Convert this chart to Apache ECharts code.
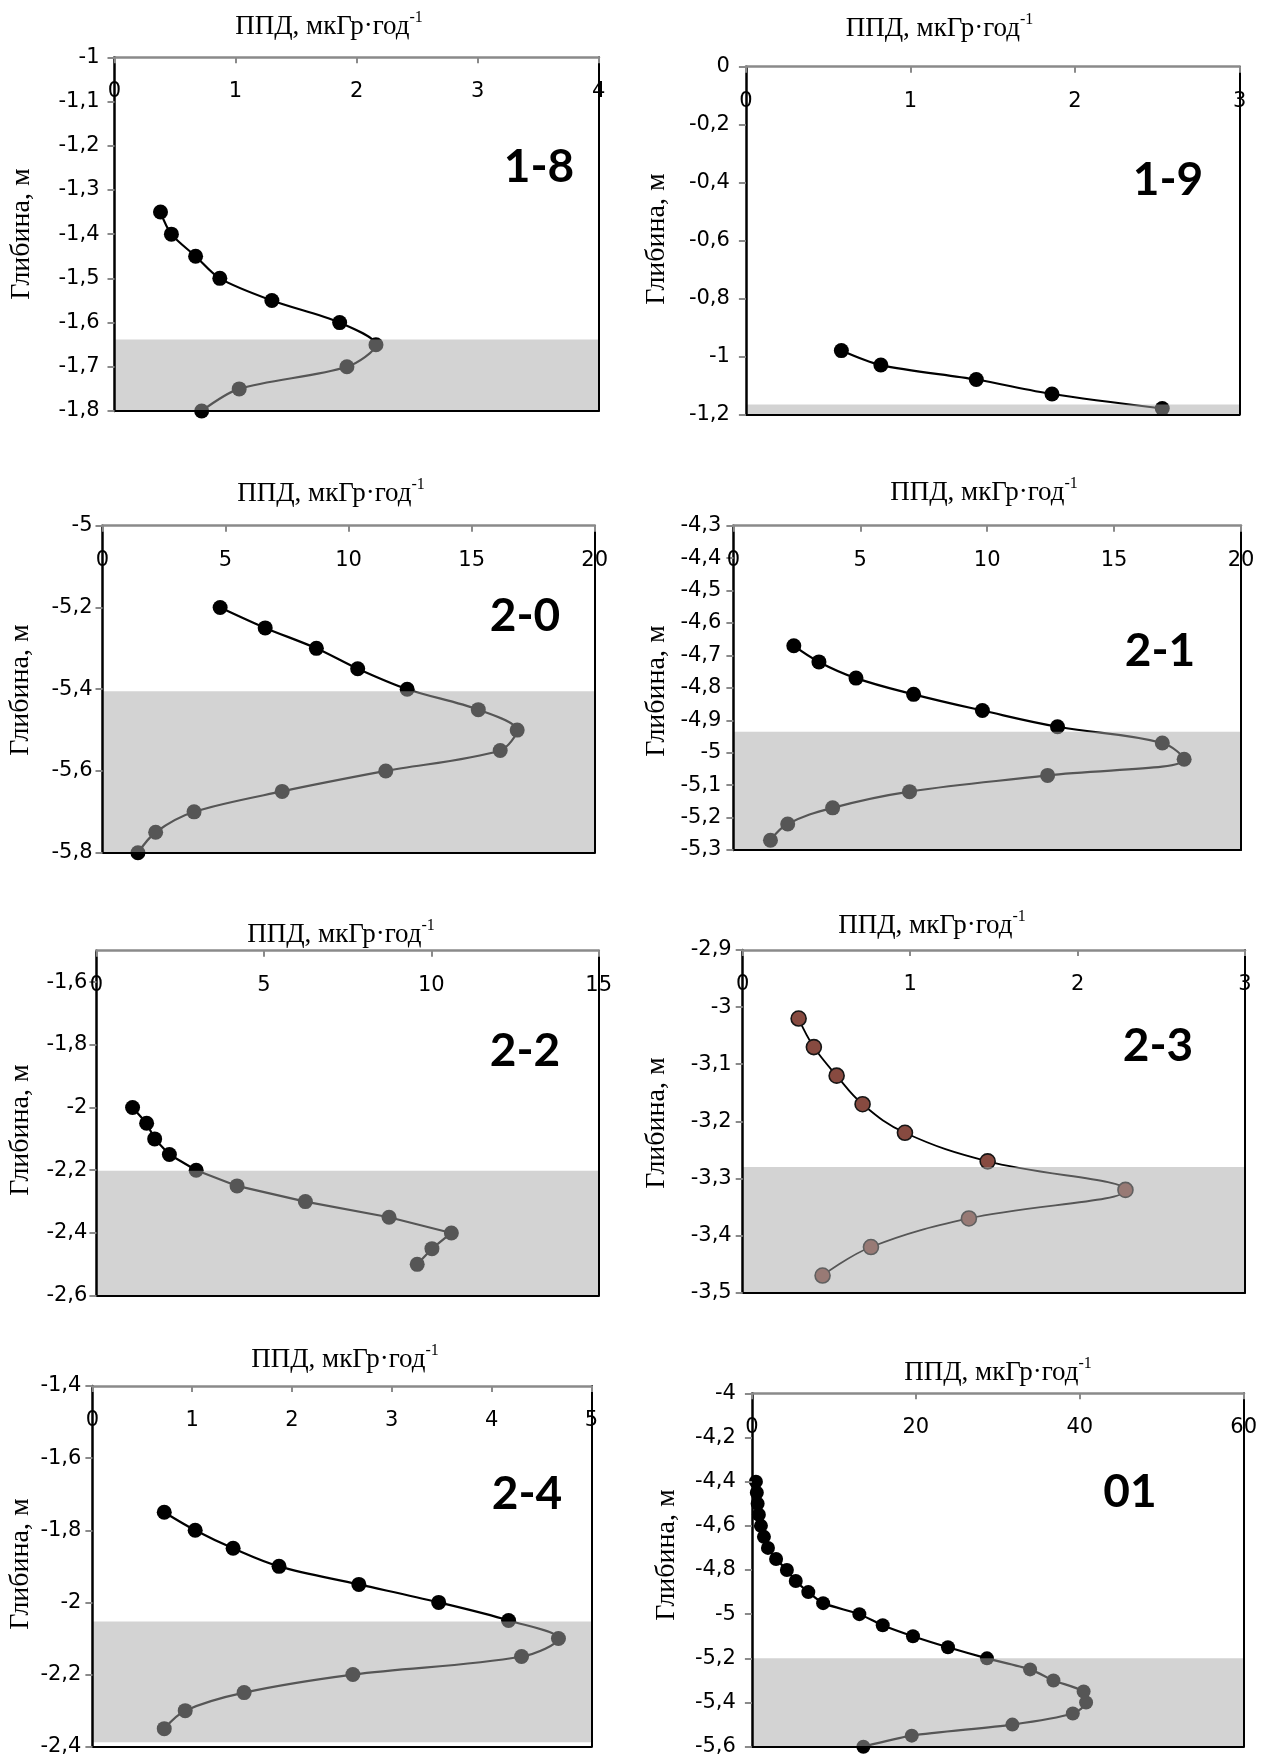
<!DOCTYPE html>
<html><head><meta charset="utf-8">
<script src="https://cdn.jsdelivr.net/npm/echarts@6/dist/echarts.min.js"></script>
<style>html,body{margin:0;padding:0;background:#fff}#c{width:1261px;height:1758px}</style>
</head><body><div id="c"></div>
<script>
// ---------------- DATA ----------------
const p18_depth = [-1.35,-1.40,-1.45,-1.50,-1.55,-1.60,-1.65,-1.70,-1.75,-1.80];
const p18_ppd   = [0.38,0.47,0.67,0.87,1.30,1.86,2.16,1.92,1.03,0.72];
const p18_xTicks = [0,1,2,3,4];
const p18_yTicks = [-1.8,-1.7,-1.6,-1.5,-1.4,-1.3,-1.2,-1.1,-1];
const p18_shade = [-1.638,-1.8];

const p19_depth = [-0.98,-1.03,-1.08,-1.13,-1.18];
const p19_ppd   = [0.58,0.82,1.40,1.86,2.53];
const p19_xTicks = [0,1,2,3];
const p19_yTicks = [-1.2,-1,-0.8,-0.6,-0.4,-0.2,0];
const p19_shade = [-1.166,-1.2];

const p20_depth = [-5.20,-5.25,-5.30,-5.35,-5.40,-5.45,-5.50,-5.55,-5.60,-5.65,-5.70,-5.75,-5.80];
const p20_ppd   = [4.78,6.61,8.69,10.37,12.38,15.27,16.85,16.16,11.51,7.30,3.72,2.16,1.44];
const p20_xTicks = [0,5,10,15,20];
const p20_yTicks = [-5.8,-5.6,-5.4,-5.2,-5];
const p20_shade = [-5.405,-5.8];

const p21_depth = [-4.67,-4.72,-4.77,-4.82,-4.87,-4.92,-4.97,-5.02,-5.07,-5.12,-5.17,-5.22,-5.27];
const p21_ppd   = [2.38,3.37,4.83,7.10,9.81,12.77,16.90,17.76,12.38,6.94,3.91,2.14,1.46];
const p21_xTicks = [0,5,10,15,20];
const p21_yTicks = [-5.3,-5.2,-5.1,-5,-4.9,-4.8,-4.7,-4.6,-4.5,-4.4,-4.3];
const p21_shade = [-4.935,-5.3];

const p22_depth = [-2.00,-2.05,-2.10,-2.15,-2.20,-2.25,-2.30,-2.35,-2.40,-2.45,-2.50];
const p22_ppd   = [1.08,1.50,1.74,2.18,2.98,4.20,6.24,8.74,10.60,10.02,9.58];
const p22_xTicks = [0,5,10,15];
const p22_yTicks = [-2.6,-2.4,-2.2,-2,-1.8,-1.6];
const p22_yMax = -1.5;
const p22_shade = [-2.202,-2.6];

const p23_depth = [-3.02,-3.07,-3.12,-3.17,-3.22,-3.27,-3.32,-3.37,-3.42,-3.47];
const p23_ppd   = [0.334,0.425,0.561,0.716,0.969,1.463,2.286,1.351,0.766,0.477];
const p23_xTicks = [0,1,2,3];
const p23_yTicks = [-3.5,-3.4,-3.3,-3.2,-3.1,-3,-2.9];
const p23_shade = [-3.28,-3.5];

const p24_depth = [-1.75,-1.80,-1.85,-1.90,-1.95,-2.00,-2.05,-2.10,-2.15,-2.20,-2.25,-2.30,-2.35];
const p24_ppd   = [0.72,1.03,1.41,1.87,2.67,3.47,4.17,4.67,4.30,2.61,1.52,0.93,0.72];
const p24_xTicks = [0,1,2,3,4,5];
const p24_yTicks = [-2.4,-2.2,-2,-1.8,-1.6,-1.4];
const p24_shade = [-2.053,-2.388];

const p01_depth = [-4.40,-4.45,-4.50,-4.55,-4.60,-4.65,-4.70,-4.75,-4.80,-4.85,-4.90,-4.95,-5.00,
                   -5.05,-5.10,-5.15,-5.20,-5.25,-5.30,-5.35,-5.40,-5.45,-5.50,-5.55,-5.60];
const p01_ppd   = [0.49,0.60,0.70,0.85,1.10,1.47,1.96,2.95,4.27,5.35,6.88,8.69,13.11,
                   15.96,19.65,23.92,28.68,33.94,36.79,40.47,40.77,39.15,31.78,19.50,13.60];
const p01_xTicks = [0,20,40,60];
const p01_yTicks = [-5.6,-5.4,-5.2,-5,-4.8,-4.6,-4.4,-4.2,-4];
const p01_shade = [-5.2,-5.6];

const titleText = 'ППД, мкГр·год';
const titleSup = '-1';
const yNameText = 'Глибина, м';

// ---------------- LAYOUT / STYLE ----------------
const panels = [
  {tag:'1-8', depth:p18_depth, ppd:p18_ppd, xt:p18_xTicks, yt:p18_yTicks, shade:p18_shade,
   L:{grid:[114.5,598.7,57.3,411], title:[329,25], yname:[22,234], tag:[539,167], ylm:15, smooth:0.3}},
  {tag:'1-9', depth:p19_depth, ppd:p19_ppd, xt:p19_xTicks, yt:p19_yTicks, shade:p19_shade,
   L:{grid:[745.9,1239.6,66.7,414.3], title:[939.5,27], yname:[657,239], tag:[1168,180], ylm:16, smooth:0.3}},
  {tag:'2-0', depth:p20_depth, ppd:p20_ppd, xt:p20_xTicks, yt:p20_yTicks, shade:p20_shade,
   L:{grid:[102.5,594.7,525.7,852.7], title:[331,492], yname:[21,690], tag:[525,616], ylm:10, smooth:0.3}},
  {tag:'2-1', depth:p21_depth, ppd:p21_ppd, xt:p21_xTicks, yt:p21_yTicks, shade:p21_shade,
   L:{grid:[733.4,1241,525.7,850], title:[984,491], yname:[657,691], tag:[1160,651], ylm:12, smooth:0.4}},
  {tag:'2-2', depth:p22_depth, ppd:p22_ppd, xt:p22_xTicks, yt:p22_yTicks, yMax:p22_yMax, shade:p22_shade,
   L:{grid:[96.4,598.7,950.7,1295.7], title:[341,933], yname:[21,1130], tag:[525,1051], ylm:9, smooth:0}},
  {tag:'2-3', depth:p23_depth, ppd:p23_ppd, xt:p23_xTicks, yt:p23_yTicks, shade:p23_shade, brown:true,
   L:{grid:[742.7,1245,950,1292.7], title:[932,924], yname:[657,1123], tag:[1158,1046], ylm:11, smooth:0.4}},
  {tag:'2-4', depth:p24_depth, ppd:p24_ppd, xt:p24_xTicks, yt:p24_yTicks, shade:p24_shade,
   L:{grid:[92.4,591.4,1386,1746.7], title:[345,1358], yname:[21,1564], tag:[527,1494], ylm:11, smooth:0.35}},
  {tag:'01', depth:p01_depth, ppd:p01_ppd, xt:p01_xTicks, yt:p01_yTicks, shade:p01_shade,
   L:{grid:[751.9,1243.7,1393.3,1746.7], title:[998,1371], yname:[667,1555], tag:[1130,1492], ylm:16, smooth:0.25, sym:14}}
];

const fmt = v => String(Math.round(v*100)/100).replace('.', ',');
const TICKFONT = 'DejaVu Sans';
const SERIF = 'Liberation Serif';

const grid = [], xAxis = [], yAxis = [], series = [], graphic = [];
panels.forEach((p, i) => {
  const [l, r, t, b] = p.L.grid;
  grid.push({left:l, top:t, width:r-l, height:b-t, containLabel:false});
  const xmin = p.xt[0], xmax = p.xt[p.xt.length-1], xint = p.xt[1]-p.xt[0];
  const ymin = p.yt[0], ymax = (p.yMax !== undefined ? p.yMax : p.yt[p.yt.length-1]);
  const yint = Math.round((p.yt[1]-p.yt[0])*1000)/1000;
  xAxis.push({type:'value', gridIndex:i, position:'top', min:xmin, max:xmax, interval:xint, z:10,
    axisLine:{show:true, onZero:false, lineStyle:{color:'#8a8a8a', width:2.5}},
    axisTick:{show:true, inside:true, length:6, lineStyle:{color:'#8a8a8a', width:2}},
    axisLabel:{show:true, inside:true, margin:24, color:'#000', fontFamily:TICKFONT, fontSize:21, formatter:fmt},
    splitLine:{show:false}});
  xAxis.push({type:'value', gridIndex:i, position:'bottom', min:xmin, max:xmax, z:10,
    axisLine:{show:true, onZero:false, lineStyle:{color:'#000', width:2}},
    axisTick:{show:false}, axisLabel:{show:false}, splitLine:{show:false}});
  yAxis.push({type:'value', gridIndex:i, position:'left', min:ymin, max:ymax, interval:yint, z:10,
    axisLine:{show:true, onZero:false, lineStyle:{color:'#000', width:2.5}},
    axisTick:{show:true, inside:false, length:7, lineStyle:{color:'#8a8a8a', width:2}},
    axisLabel:{show:true, margin:p.L.ylm, color:'#000', fontFamily:TICKFONT, fontSize:21, formatter:fmt,
      showMaxLabel: p.yMax === undefined},
    splitLine:{show:false}});
  yAxis.push({type:'value', gridIndex:i, position:'right', min:ymin, max:ymax, z:10,
    axisLine:{show:true, onZero:false, lineStyle:{color:'#000', width:2}},
    axisTick:{show:false}, axisLabel:{show:false}, splitLine:{show:false}});

  series.push({
    type:'line', xAxisIndex:i*2, yAxisIndex:i*2, z:2, clip:false,
    data:p.ppd.map((v,k)=>[v, p.depth[k]]),
    smooth:p.L.smooth || false,
    symbol:'circle', symbolSize: p.L.sym || 15, showAllSymbol:true,
    lineStyle:{color:'#000', width: p.brown ? 1.8 : 2.2},
    itemStyle: p.brown ? {color:'#874a40', borderColor:'#151515', borderWidth:1.6} : {color:'#000'},
    emphasis:{disabled:true}, animation:false
  });
  series.push({
    type:'custom', xAxisIndex:i*2, yAxisIndex:i*2, z:5, silent:true, animation:false,
    data:[[xmin, p.shade[0], xmax, p.shade[1]]],
    renderItem:(params, api) => {
      const a = api.coord([api.value(0), api.value(1)]);
      const c = api.coord([api.value(2), api.value(3)]);
      return {type:'rect', shape:{x:a[0], y:a[1], width:c[0]-a[0], height:c[1]-a[1]},
              style:{fill:'rgba(168,168,168,0.51)'}};
    }
  });

  graphic.push({type:'text', x:p.L.title[0], y:p.L.title[1], silent:true,
    style:{text:'{a|'+titleText+'}{s|'+titleSup+'}', align:'center', verticalAlign:'middle',
      rich:{a:{fontFamily:SERIF, fontSize:27, lineHeight:30, fill:'#000', verticalAlign:'bottom'},
            s:{fontFamily:SERIF, fontSize:16, lineHeight:16, fill:'#000', verticalAlign:'top'}}}});
  graphic.push({type:'text', x:p.L.yname[0], y:p.L.yname[1], rotation:Math.PI/2, silent:true,
    style:{text:yNameText, fontFamily:SERIF, fontSize:28, fill:'#000', align:'center', verticalAlign:'middle'}});
  graphic.push({type:'text', x:p.L.tag[0], y:p.L.tag[1], silent:true,
    style:{text:p.tag, fontFamily:'Lato', fontWeight:'bold', fontSize:46, fill:'#000', align:'center', verticalAlign:'middle'}});
});

const chart = echarts.init(document.getElementById('c'), null, {renderer:'canvas'});
chart.setOption({animation:false, backgroundColor:'#fff', grid, xAxis, yAxis, series, graphic});
</script></body></html>
